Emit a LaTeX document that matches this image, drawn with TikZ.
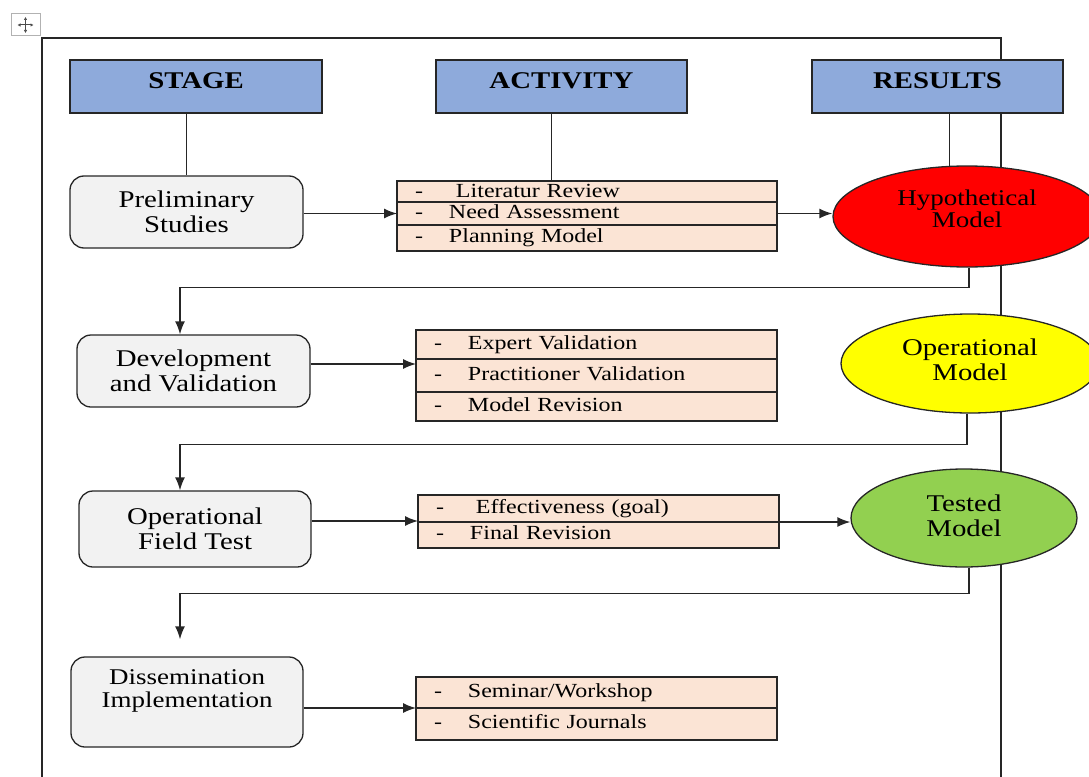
\documentclass[tikz,border=0pt]{standalone}
\usepackage{fontspec}
\setmainfont{Liberation Serif}[FakeStretch=1.2]
\usepackage{tikz}
\usetikzlibrary{shapes.geometric,positioning,arrows.meta}

\definecolor{headfill}{HTML}{8EAADB}
\definecolor{stagefill}{HTML}{F2F2F2}
\definecolor{actfill}{HTML}{FBE4D5}
\definecolor{hypfill}{HTML}{FF0000}
\definecolor{opfill}{HTML}{FFFF00}
\definecolor{testfill}{HTML}{92D050}
\definecolor{linegray}{HTML}{262626}

\newcommand{\headfont}{\fontsize{24}{26}\selectfont\bfseries}
\newcommand{\stagefont}{\fontsize{24}{25}\selectfont}
\newcommand{\dissfont}{\fontsize{22.5}{23}\selectfont}
\newcommand{\hypfont}{\fontsize{22.5}{22}\selectfont}
\newcommand{\actfont}{\fontsize{20}{22}\selectfont}
\newcommand{\dash}{\makebox[34pt][l]{-}}

\begin{document}
\begin{tikzpicture}[x=1pt,y=-1pt,
	head/.style={draw=linegray, line width=1.6pt, fill=headfill, minimum width=252pt, minimum height=53pt, text depth=11pt, font=\headfont},
	stagebox/.style={draw=linegray, line width=1.3pt, fill=stagefill, rounded corners=14pt, align=center, font=\stagefont, minimum width=233pt, minimum height=72pt},
	result/.style={ellipse, draw=linegray, line width=1.3pt, inner sep=0pt, align=center, font=\stagefont},
	actrow/.style={draw=linegray, line width=1.5pt, fill=actfill, inner xsep=18pt, inner ysep=0pt, outer sep=0pt, text width=325pt, align=left, text height=14pt, text depth=5pt, font=\actfont},
	link/.style={draw=linegray, line width=1.4pt},
	>={Latex[length=13pt,width=10pt]}]
	\useasboundingbox (0,0) rectangle (1089,776);
	\clip (0,0) rectangle (1089,776);

	\draw[line width=1.5pt, draw=linegray] (42,800) -- (42,38) -- (1001,38) -- (1001,800);

	\node[draw=gray!60, line width=1pt, minimum width=29pt, minimum height=22pt, inner sep=0pt] (handle) at (25.5,25) {};
	\draw[gray!60!black, line width=1pt, {Latex[length=3pt,width=3.5pt]}-{Latex[length=3pt,width=3.5pt]}] ([xshift=-8pt]handle.center) -- ([xshift=8pt]handle.center);
	\draw[gray!60!black, line width=1pt, {Latex[length=3pt,width=3.5pt]}-{Latex[length=3pt,width=3.5pt]}] ([yshift=-8pt]handle.center) -- ([yshift=8pt]handle.center);

	\node[head] (stage) at (196,86.5) {STAGE};
	\node[head, minimum width=251pt] (act) at (561.5,86.5) {ACTIVITY};
	\node[head, minimum width=251pt] (res) at (937.5,86.5) {RESULTS};

	\node[stagebox] (prelim) at (186.5,212) {Preliminary\\Studies};
	\node[stagebox] (dev) at (193.5,371) {Development\\and Validation};
	\node[stagebox, minimum width=232pt, minimum height=76pt] (oft) at (195,529) {Operational\\Field Test};
	\node[stagebox, minimum width=232pt, minimum height=90pt, font=\dissfont, text depth=26pt] (diss) at (187,702) {Dissemination\\Implementation};

	\node[actrow, text width=344pt, minimum height=21pt, text height=16pt] (lit) at (587,191.5) {\dash\hspace{7pt}Literatur Review};
	\node[actrow, text width=344pt, minimum height=23pt] (need) [below=0pt of lit] {\dash Need Assessment};
	\node[actrow, text width=344pt, minimum height=26pt] (plan) [below=0pt of need] {\dash Planning Model};

	\node[actrow, minimum height=29pt] (expert) at (596.5,344.5) {\dash Expert Validation};
	\node[actrow, minimum height=33pt] (pract) [below=0pt of expert] {\dash Practitioner Validation};
	\node[actrow, minimum height=29pt] (revis) [below=0pt of pract] {\dash Model Revision};

	\node[actrow, minimum height=27pt] (effect) at (598.5,508.5) {\dash\hspace{6pt}Effectiveness (goal)};
	\node[actrow, minimum height=26pt] (final) [below=0pt of effect] {\dash Final Revision};

	\node[actrow, minimum height=31pt] (semin) at (596.5,692.5) {\dash Seminar/Workshop};
	\node[actrow, minimum height=32pt] (journ) [below=0pt of semin] {\dash Scientific Journals};

	\draw[link] (stage.south -| prelim.north) -- (prelim.north);
	\draw[link] ([xshift=-10pt]act.south) -- ([xshift=-10pt]act.south |- lit.north);
	\draw[link] ([xshift=12pt]res.south) -- ([xshift=12pt]res.south |- 0,167);

	\node[result, fill=hypfill, minimum width=268pt, minimum height=101pt, font=\hypfont, text depth=15pt] (hyp) at (967,216.5) {Hypothetical\\Model};
	\node[result, fill=opfill, minimum width=258pt, minimum height=99pt, text depth=8pt] (op) at (970,363.5) {Operational\\Model};
	\node[result, fill=testfill, minimum width=226pt, minimum height=98pt, text depth=5pt] (tested) at (964,518) {Tested\\Model};

	\draw[link, ->] (prelim.east |- need.west) -- (need.west);
	\draw[link, ->] (need.east) -- (need.east -| hyp.west);
	\draw[link, ->] ([yshift=7pt]dev.east) -- ([yshift=7pt]dev.east -| expert.west);
	\draw[link, ->] ([yshift=8pt]oft.east) -- ([yshift=8pt]oft.east -| effect.west);
	\draw[link, ->] (effect.south east) -- (effect.south east -| tested.west);
	\draw[link, ->] (diss.east |- semin.south) -- (semin.south west);

	\draw[link, ->] ([xshift=2pt]hyp.south) -- ++(0,20) -| ([xshift=-13.5pt]dev.north);
	\draw[link, ->] ([xshift=-3pt]op.south) -- ++(0,31) -| ([xshift=-15pt]oft.north);
	\draw[link, ->, shorten >=17pt] ([xshift=5pt]tested.south) -- ++(0,26) -| ([xshift=-7pt]diss.north);
\end{tikzpicture}
\end{document}
